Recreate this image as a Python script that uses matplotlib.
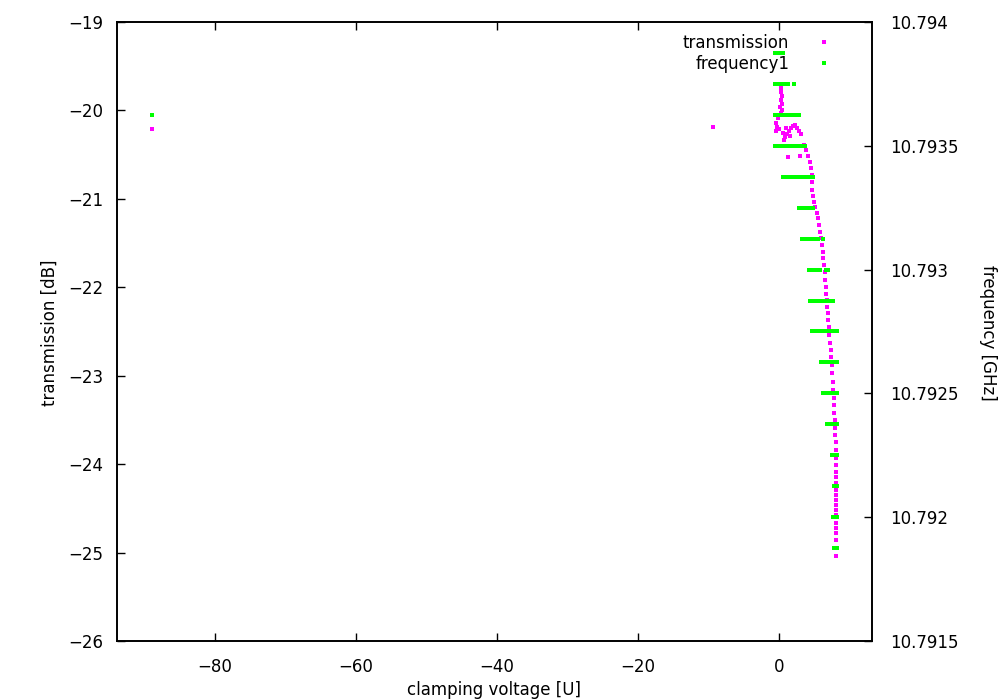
import matplotlib
matplotlib.use("Agg")
import matplotlib.pyplot as plt
from matplotlib.ticker import FormatStrFormatter

# transmission vs clamping voltage
trans_volt = [
    -88.9, -9.4,
    0.28, 0.28, 0.43, 0.28, 0.43, 0.14, 0.43, 0.28, -0.14, -0.43, -0.28, -0.43,
    0.0, 0.57, 0.85, 0.71, 1.13, 1.42, 1.70, 1.99, 2.27, 2.55, 2.84, 3.12,
    0.99, 1.56, 1.28, 2.98, 3.55, 3.83, 4.11, 4.40, 4.54, 4.68, 4.68, 4.68,
    4.82, 4.96, 5.10, 5.39, 5.53, 5.67, 5.82, 5.96, 6.10, 6.24, 6.24, 6.38,
    6.52, 6.52, 6.67, 6.67, 6.81, 6.81, 6.95, 6.95, 7.09, 7.09, 7.23, 7.38,
    7.38, 7.52, 7.52, 7.66, 7.66, 7.80, 7.80, 7.80, 7.94, 7.94, 7.94, 8.09,
    8.09, 8.09, 8.09, 8.09, 8.09, 8.09, 8.09, 8.09, 8.09, 8.09, 8.09, 8.09,
    8.09, 8.09, 8.09, 8.09, 8.09,
]
trans_db = [
    -20.21, -20.19,
    -19.75, -19.79, -19.84, -19.88, -19.93, -19.96, -20.00, -20.03, -20.09, -20.14, -20.19, -20.23,
    -20.21, -20.26, -20.30, -20.33, -20.27, -20.23, -20.20, -20.18, -20.16, -20.20, -20.23, -20.27,
    -20.20, -20.29, -20.53, -20.52, -20.39, -20.45, -20.52, -20.58, -20.65, -20.73, -20.81, -20.90,
    -20.97, -21.04, -21.09, -21.16, -21.22, -21.30, -21.37, -21.44, -21.52, -21.60, -21.67, -21.75,
    -21.83, -21.92, -22.00, -22.08, -22.14, -22.22, -22.29, -22.37, -22.45, -22.54, -22.63, -22.71,
    -22.79, -22.88, -22.97, -23.07, -23.16, -23.25, -23.33, -23.42, -23.50, -23.59, -23.67, -23.75,
    -23.84, -23.93, -24.01, -24.09, -24.15, -24.21, -24.29, -24.35, -24.41, -24.46, -24.52, -24.58,
    -24.67, -24.72, -24.78, -24.86, -25.04,
]

# frequency steps: one level per row, with the voltages where it was hit
freq_levels = [
    10.793875, 10.79375, 10.793625, 10.7935, 10.793375, 10.79325,
    10.793125, 10.793, 10.792875, 10.79275, 10.792625, 10.7925,
    10.792375, 10.79225, 10.792125, 10.792, 10.791875,
]
freq_volts = [
    [-0.57, -0.3, 0.0, 0.3, 0.57],
    [-0.57, -0.3, 0.0, 0.3, 0.6, 0.9, 1.28, 2.13],
    [-88.9, -0.57, -0.3, 0.0, 0.3, 0.6, 0.9, 1.2, 1.5, 1.8, 2.27, 2.84],
    [-0.57, -0.3, 0.0, 0.3, 0.6, 0.9, 1.2, 1.5, 1.8, 2.1, 2.4, 2.7, 3.0, 3.3, 3.69],
    [0.57, 0.9, 1.2, 1.5, 1.8, 2.1, 2.4, 2.7, 3.0, 3.3, 3.6, 3.9, 4.2, 4.5, 4.82],
    [2.84, 3.1, 3.4, 3.7, 4.0, 4.3, 4.55, 4.82],
    [3.26, 3.55, 3.85, 4.15, 4.45, 4.8, 5.1, 5.53, 6.24],
    [4.26, 4.55, 4.85, 5.15, 5.5, 5.82, 6.67, 6.95],
    [4.4, 4.7, 5.0, 5.3, 5.6, 5.9, 6.2, 6.5, 6.8, 7.1, 7.4, 7.66],
    [4.68, 5.0, 5.3, 5.6, 5.9, 6.2, 6.5, 6.8, 7.0, 7.23, 7.8, 8.05, 8.23],
    [5.96, 6.25, 6.55, 6.85, 7.15, 7.45, 7.75, 8.0, 8.23],
    [6.24, 6.55, 6.85, 7.15, 7.45, 7.75, 8.0, 8.23],
    [6.81, 7.09, 7.66, 7.95, 8.23],
    [7.52, 7.8, 8.05, 8.23],
    [7.8, 8.05, 8.23],
    [7.66, 7.95, 8.23],
    [7.8, 8.05, 8.23],
]

freq_x = []
freq_y = []
for level, volts in zip(freq_levels, freq_volts):
    freq_x += volts
    freq_y += [level] * len(volts)

plt.rcParams['font.family'] = ['DejaVu Sans']
plt.rcParams['font.size'] = 12

fig = plt.figure(figsize=(10, 7), dpi=100)
ax = fig.add_axes([0.117, 0.0843, 0.755, 0.8843])
ax2 = ax.twinx()

ax.plot(trans_volt, trans_db, linestyle='none', marker='s', markersize=2.2,
        markeredgewidth=0, color='#ff00ff', label='transmission', snap=False)
ax2.plot(freq_x, freq_y, linestyle='none', marker='s', markersize=2.5,
         markeredgewidth=0, color='#00ff00', label='frequency1')

ax.set_xlim(-93.9, 13.2)
ax.set_ylim(-26, -19)
ax2.set_ylim(10.7915, 10.794)
ax.set_xticks([-80, -60, -40, -20, 0])
ax.set_yticks(range(-26, -18))
ax2.set_yticks([10.7915, 10.792, 10.7925, 10.793, 10.7935, 10.794])
ax2.yaxis.set_major_formatter(FormatStrFormatter('%g'))

ax.tick_params(axis='x', direction='in', top=True, length=6, width=1, pad=12)
ax.tick_params(axis='y', direction='in', right=False, length=6, width=1, pad=10)
ax2.tick_params(axis='y', direction='in', length=6, width=1, pad=13)
for a in (ax, ax2):
    for s in a.spines.values():
        s.set_linewidth(1.2)

fig.text(0.050, 0.525, 'transmission [dB]', rotation=90, ha='center', va='center')
fig.text(0.494, 0.014, 'clamping voltage [U]', ha='center', va='center')
fig.text(0.988, 0.525, 'frequency [GHz]', rotation=270, ha='center', va='center')

h1, l1 = ax.get_legend_handles_labels()
h2, l2 = ax2.get_legend_handles_labels()
ax2.legend(h1 + h2, l1 + l2, loc='upper right', bbox_to_anchor=(0.841, 0.963),
           bbox_transform=fig.transFigure, frameon=False, markerfirst=False,
           handlelength=1.0, handletextpad=1.6, borderpad=0, labelspacing=0.15,
           markerscale=1.0)

fig.savefig('out.png', dpi=100)
